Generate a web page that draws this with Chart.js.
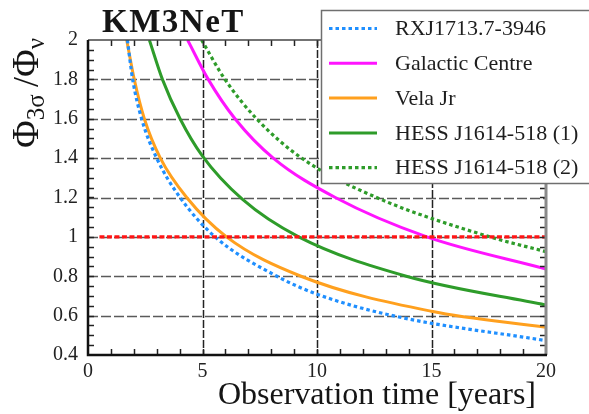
<!DOCTYPE html>
<html>
<head>
<meta charset="utf-8">
<script src="https://cdn.jsdelivr.net/npm/chart.js@4.4.1/dist/chart.umd.min.js"></script>
<style>
  html, body { margin: 0; padding: 0; background: #ffffff; }
  #wrap { width: 589px; height: 414px; }
</style>
</head>
<body>
<div id="wrap"><canvas id="c" width="589" height="414"></canvas></div>
<script>
// Axis ticks
const xTicks = [0, 5, 10, 15, 20];
const xTickLabels = ['0', '5', '10', '15', '20'];
const yTicks = [0.4, 0.6, 0.8, 1, 1.2, 1.4, 1.6, 1.8, 2];
const yTickLabels = ['0.4', '0.6', '0.8', '1', '1.2', '1.4', '1.6', '1.8', '2'];

// Sensitivity ratio vs observation time (years) for each source
const rxjT = [1.72, 1.95, 2.34, 3.0, 4.02, 5.55, 8.25, 10, 13.3, 20];
const rxjV = [2.0, 1.8, 1.6, 1.4, 1.2, 1.0, 0.8, 0.709, 0.6, 0.473];

const gcT = [4.35, 5.25, 6.42, 8.09, 10.8, 14.8, 20];
const gcV = [2.0, 1.8, 1.6, 1.4, 1.2, 1.0, 0.837];

const velaT = [1.69, 2.02, 2.46, 3.16, 4.31, 6.05, 9.3, 15, 20];
const velaV = [2.0, 1.8, 1.6, 1.4, 1.2, 1.0, 0.8, 0.622, 0.541];

const hess1T = [2.68, 3.25, 4.02, 5.0, 6.75, 9.2, 13.9, 20];
const hess1V = [2.0, 1.8, 1.6, 1.41, 1.19, 1.0, 0.8, 0.654];

const hess2T = [4.96, 5.98, 7.36, 9.33, 12.6, 17.55, 20];
const hess2V = [2.0, 1.8, 1.6, 1.4, 1.2, 1.0, 0.925];

// 3-sigma discovery threshold
const thresholdT = [0.5, 20];
const thresholdV = [1, 1];

const seriesLabels = ['RXJ1713.7-3946', 'Galactic Centre', 'Vela Jr', 'HESS J1614-518 (1)', 'HESS J1614-518 (2)'];

const SERIF = "'Liberation Serif', 'DejaVu Serif', serif";
const GREEN = '#2e9c2a';

function pts(ts, vs) { return ts.map((t, i) => ({ x: t, y: vs[i] })); }

// Grid, frame, minor ticks, legend box and axis titles
const decorations = {
  id: 'decorations',
  beforeDatasetsDraw(chart) {
    const { ctx, chartArea: a, scales: { x, y } } = chart;
    ctx.save();
    ctx.lineWidth = 1.5;
    ctx.strokeStyle = '#5a5a5a';
    ctx.setLineDash([10, 3]);
    yTicks.forEach(v => {
      if (v === yTicks[0] || v === yTicks[yTicks.length - 1]) return;
      const py = Math.round(y.getPixelForValue(v)) + 0.5;
      ctx.beginPath(); ctx.moveTo(a.left, py); ctx.lineTo(a.right, py); ctx.stroke();
    });
    ctx.strokeStyle = '#222';
    ctx.setLineDash([8, 2]);
    xTicks.forEach(v => {
      if (v === xTicks[0] || v === xTicks[xTicks.length - 1]) return;
      const px = Math.round(x.getPixelForValue(v)) + 0.5;
      ctx.beginPath(); ctx.moveTo(px, a.top); ctx.lineTo(px, a.bottom); ctx.stroke();
    });
    ctx.restore();
  },
  afterDatasetsDraw(chart) {
    const { ctx, chartArea: a, scales: { x, y } } = chart;
    ctx.save();
    ctx.setLineDash([]);
    // minor ticks
    ctx.strokeStyle = '#222';
    ctx.lineWidth = 1.5;
    for (let t = 1; t < 20; t++) {
      const px = Math.round(x.getPixelForValue(t)) + 0.5;
      ctx.beginPath(); ctx.moveTo(px, a.bottom); ctx.lineTo(px, a.bottom - 6); ctx.stroke();
      ctx.beginPath(); ctx.moveTo(px, a.top); ctx.lineTo(px, a.top + 6); ctx.stroke();
    }
    for (let k = 9; k < 40; k++) {
      const py = Math.round(y.getPixelForValue(k * 0.05)) + 0.5;
      ctx.beginPath(); ctx.moveTo(a.left, py); ctx.lineTo(a.left + 6, py); ctx.stroke();
      ctx.beginPath(); ctx.moveTo(a.right, py); ctx.lineTo(a.right - 6, py); ctx.stroke();
    }
    // frame
    ctx.strokeStyle = '#444';
    ctx.lineWidth = 1.5;
    ctx.beginPath(); ctx.moveTo(a.left, a.top); ctx.lineTo(a.right, a.top); ctx.stroke();
    ctx.strokeStyle = '#8a8a8a';
    ctx.lineWidth = 3;
    ctx.beginPath(); ctx.moveTo(a.right, a.top); ctx.lineTo(a.right, a.bottom); ctx.stroke();
    ctx.strokeStyle = '#111';
    ctx.lineWidth = 2.5;
    ctx.beginPath(); ctx.moveTo(a.left, a.top); ctx.lineTo(a.left, a.bottom); ctx.lineTo(a.right + 1, a.bottom); ctx.stroke();
    ctx.restore();
  },
  afterDraw(chart) {
    const { ctx, chartArea: a } = chart;
    ctx.save();
    // legend box
    const bx = 321.5, by = 10.5, bh = 173;
    ctx.fillStyle = '#ffffff';
    ctx.fillRect(bx, by, 300, bh);
    ctx.strokeStyle = '#6f6f6f';
    ctx.lineWidth = 1.5;
    ctx.strokeRect(bx, by, 300, bh);
    const rows = chart.data.datasets.filter(d => seriesLabels.includes(d.label));
    rows.forEach((d, i) => {
      const ly = 28.5 + i * 34.8;
      ctx.strokeStyle = d.borderColor;
      ctx.lineWidth = d.borderWidth;
      ctx.setLineDash(d.borderDash || []);
      ctx.beginPath(); ctx.moveTo(329, ly); ctx.lineTo(377, ly); ctx.stroke();
      ctx.setLineDash([]);
      ctx.fillStyle = '#1e1e1e';
      ctx.font = '22px ' + SERIF;
      ctx.textAlign = 'left';
      ctx.textBaseline = 'middle';
      ctx.fillText(d.label, 395, ly + 1);
    });
    // title
    ctx.fillStyle = '#151515';
    ctx.font = 'bold 33px ' + SERIF;
    ctx.letterSpacing = '1.5px';
    ctx.textAlign = 'left';
    ctx.textBaseline = 'alphabetic';
    ctx.fillText('KM3NeT', 102, 32);
    ctx.letterSpacing = '0px';
    // x axis title
    ctx.font = '32px ' + SERIF;
    ctx.textAlign = 'right';
    ctx.fillText('Observation time [years]', a.right - 10, 404);
    // y axis title: Φ_3σ / Φ_ν
    const parts = [
      ['Φ', 38, 0], ['3σ', 25, 6], ['\u2009/', 36, 0], ['Φ', 38, 0], ['ν', 25, 6]
    ];
    let total = 0;
    parts.forEach(p => { ctx.font = p[1] + 'px ' + SERIF; p.push(ctx.measureText(p[0]).width); total += p[3]; });
    ctx.translate(38, 93);
    ctx.rotate(-Math.PI / 2);
    ctx.textAlign = 'left';
    let cx = -total / 2;
    parts.forEach(p => {
      ctx.font = p[1] + 'px ' + SERIF;
      ctx.fillText(p[0], cx, p[2]);
      cx += p[3];
    });
    ctx.restore();
  }
};

const lineBase = { pointRadius: 0, borderWidth: 3, fill: false, cubicInterpolationMode: 'monotone', borderCapStyle: 'butt' };

new Chart(document.getElementById('c'), {
  type: 'line',
  data: {
    datasets: [
      Object.assign({}, lineBase, { label: 'threshold', data: pts(thresholdT, thresholdV), borderColor: '#ff1414', borderWidth: 3.2, borderDash: [5, 2.5] }),
      Object.assign({}, lineBase, { label: seriesLabels[0], data: pts(rxjT, rxjV), borderColor: '#1f8fff', borderWidth: 3.2, borderDash: [3.5, 3] }),
      Object.assign({}, lineBase, { label: seriesLabels[1], data: pts(gcT, gcV), borderColor: '#ff14ff' }),
      Object.assign({}, lineBase, { label: seriesLabels[2], data: pts(velaT, velaV), borderColor: '#ffa01e' }),
      Object.assign({}, lineBase, { label: seriesLabels[3], data: pts(hess1T, hess1V), borderColor: GREEN }),
      Object.assign({}, lineBase, { label: seriesLabels[4], data: pts(hess2T, hess2V), borderColor: GREEN, borderWidth: 3.2, borderDash: [3.5, 3] })
    ]
  },
  options: {
    responsive: false,
    animation: false,
    devicePixelRatio: 1,
    layout: { padding: { left: 0, right: 43, top: 40, bottom: 0 } },
    plugins: { legend: { display: false }, tooltip: { enabled: false }, title: { display: false } },
    scales: {
      x: {
        type: 'linear', min: 0, max: 20,
        afterBuildTicks: s => { s.ticks = xTicks.map(v => ({ value: v })); },
        afterFit: s => { s.height = 59; },
        grid: { display: false, drawTicks: false },
        border: { display: false },
        ticks: {
          padding: 5, maxRotation: 0, autoSkip: false, color: '#222',
          font: { family: SERIF, size: 20 },
          callback: v => xTickLabels[xTicks.indexOf(v)]
        }
      },
      y: {
        type: 'linear', min: 0.4, max: 2,
        afterBuildTicks: s => { s.ticks = yTicks.map(v => ({ value: v })); },
        afterFit: s => { s.width = 88; },
        grid: { display: false, drawTicks: false },
        border: { display: false },
        ticks: {
          padding: 10, autoSkip: false, color: '#222',
          font: { family: SERIF, size: 20 },
          callback: v => yTickLabels[yTicks.indexOf(v)]
        }
      }
    }
  },
  plugins: [decorations]
});
</script>
</body>
</html>
